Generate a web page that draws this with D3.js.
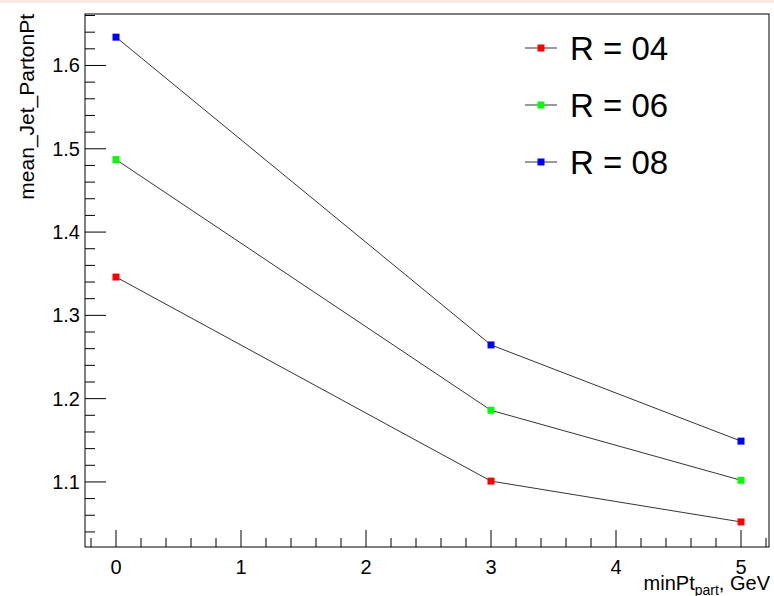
<!DOCTYPE html>
<html><head><meta charset="utf-8">
<script src="https://cdn.jsdelivr.net/npm/d3@7"></script>
<style>body{margin:0;background:#fff}text{font-family:"Liberation Sans",Arial,sans-serif}</style>
</head><body><svg id="c" width="774" height="596"></svg>
<script>
const xs = [0, 3, 5];
const seriesNames = ["R = 04", "R = 06", "R = 08"];
const seriesColors = ["#ff0000", "#00ff00", "#0000ff"];
const r04 = [1.346, 1.101, 1.052];
const r06 = [1.487, 1.186, 1.102];
const r08 = [1.634, 1.2645, 1.149];
const series = [r04, r06, r08];
const xTicks = [0, 1, 2, 3, 4, 5];
const yTicks = [1.1, 1.2, 1.3, 1.4, 1.5, 1.6];

const svg = d3.select('#c');
svg.append('rect').attr('width', 774).attr('height', 3).attr('fill', '#f5ebe0');
const L = 85, R = 769, T = 14, B = 547;
const x = d3.scaleLinear().domain([-0.248, 5.224]).range([L, R]);
const y = d3.scaleLinear().domain([1.0219, 1.6618]).range([B, T]);
const ax = svg.append('g').attr('stroke', '#000').attr('stroke-width', 1);

// minor ticks
d3.range(-0.2, 5.21, 0.2).forEach(v => {
  const big = Math.abs(v - Math.round(v)) < 1e-6;
  ax.append('line').attr('x1', x(v)).attr('x2', x(v)).attr('y1', B).attr('y2', B - (big ? 17 : 9));
});
d3.range(1.04, 1.661, 0.02).forEach(v => {
  const big = Math.abs(v * 10 - Math.round(v * 10)) < 1e-6;
  ax.append('line').attr('y1', y(v)).attr('y2', y(v)).attr('x1', L).attr('x2', L + (big ? 21 : 10));
});
svg.append('rect').attr('x', L).attr('y', T).attr('width', R - L).attr('height', B - T)
  .attr('fill', 'none').attr('stroke', '#000');

svg.selectAll('.xl').data(xTicks).enter().append('text')
  .attr('x', d => x(d)).attr('y', 574).attr('text-anchor', 'middle').attr('font-size', 20).text(d => d);
svg.selectAll('.yl').data(yTicks).enter().append('text')
  .attr('x', 80).attr('y', d => y(d) + 7).attr('text-anchor', 'end').attr('font-size', 20).text(d => d.toFixed(1));

const xt = svg.append('text').attr('x', 770).attr('y', 590).attr('text-anchor', 'end').attr('font-size', 20);
xt.append('tspan').text('minPt');
xt.append('tspan').attr('font-size', 14).attr('dy', 5).text('part');
xt.append('tspan').attr('dy', -5).text(', GeV');
svg.append('text').attr('transform', 'translate(34,14) rotate(-90)').attr('text-anchor', 'end')
  .attr('font-size', 21).text('mean_Jet_PartonPt');

const line = d3.line().x((d, i) => x(xs[i])).y(d => y(d));
series.forEach((s, k) => {
  svg.append('path').attr('d', line(s)).attr('fill', 'none').attr('stroke', '#000').attr('stroke-width', 0.8);
  svg.selectAll('.m' + k).data(s).enter().append('rect')
    .attr('x', (d, i) => x(xs[i]) - 3.5).attr('y', d => y(d) - 3.5).attr('width', 7).attr('height', 7)
    .attr('fill', seriesColors[k]);
});

seriesNames.forEach((n, k) => {
  const ly = 48 + k * 57;
  svg.append('line').attr('x1', 525).attr('x2', 557).attr('y1', ly).attr('y2', ly).attr('stroke', '#000').attr('stroke-width', 0.8);
  svg.append('rect').attr('x', 537.5).attr('y', ly - 3.5).attr('width', 7).attr('height', 7).attr('fill', seriesColors[k]);
  svg.append('text').attr('x', 570).attr('y', ly + 12).attr('font-size', 33).text(n);
});
</script></body></html>
